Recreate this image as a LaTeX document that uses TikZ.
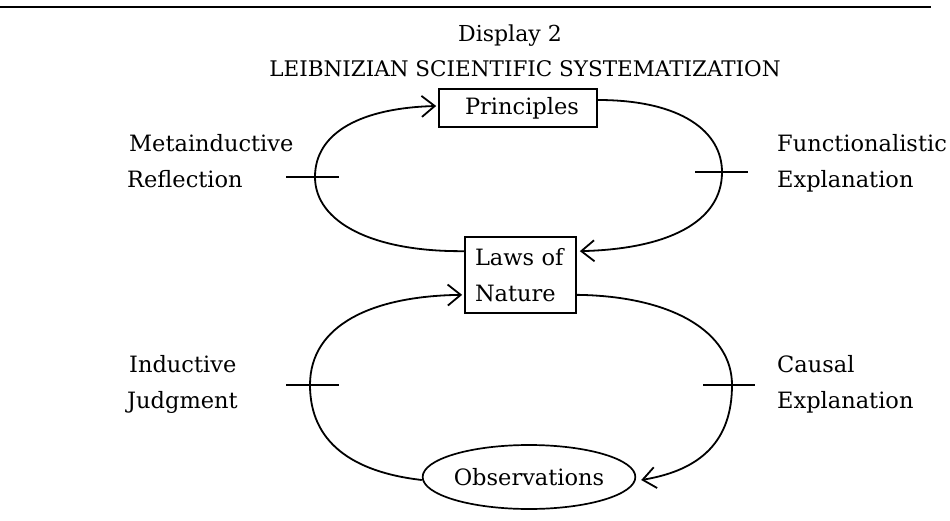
\documentclass[tikz,border=0pt]{standalone}
\usepackage{fontspec}
\setmainfont{DejaVu Serif}
\usetikzlibrary{arrows.meta,shapes.geometric,calc}
\begin{document}
\begin{tikzpicture}[x=1pt,y=-1pt,
  lbl/.style={anchor=base west,inner sep=0pt,font=\fontsize{22.5}{27}\selectfont},
  ttl/.style={anchor=base,inner sep=0pt},
  boxnode/.style={draw,line width=1.7pt,inner sep=0pt,font=\fontsize{22.5}{36}\selectfont},
  conn/.style={line width=1.8pt},
  arr/.style={conn,-{Straight Barb[length=13pt,width=21pt,line width=1.8pt]}},
  tick/.style={line width=1.8pt}]
\useasboundingbox (0,0) rectangle (950,521);
\draw[line width=1.8pt] (0,7) -- (931,7);
\node[ttl,font=\fontsize{22}{26}\selectfont] (t1) at (510,42) {Display 2};
\node[ttl,font=\fontsize{21.5}{26}\selectfont] (t2) at (525,77) {LEIBNIZIAN SCIENTIFIC SYSTEMATIZATION};
% boxes
\node[boxnode,minimum width=158pt,minimum height=38pt] (princ) at (518,108) {\hspace*{8pt}Principles};
\node[boxnode,minimum width=111pt,minimum height=76pt,align=left,text width=91pt] (laws) at (520.5,275) {Laws of\\Nature};
\node[boxnode,ellipse,minimum width=205pt,minimum height=64pt] (obs) at (529,477) {Observations};
% labels
\node[lbl] (mi1) at (129,152) {Metainductive};
\node[lbl] (mi2) at (127,188) {Reflection};
\node[lbl] (fe1) at (777,152) {Functionalistic};
\node[lbl] (fe2) at (777,188) {Explanation};
\node[lbl] (ij1) at (129,372) {Inductive};
\node[lbl] (ij2) at (127,408) {Judgment};
\node[lbl] (ce1) at (777,372) {Causal};
\node[lbl] (ce2) at (777,408) {Explanation};
% connectors
\coordinate (lawsTL) at ([yshift=-15pt]laws.north west);
\coordinate (lawsTR) at ([yshift=-15pt,xshift=3pt]laws.north east);
\coordinate (lawsBL) at ([yshift=19pt,xshift=-2pt]laws.south west);
\coordinate (lawsBR) at ([yshift=19pt]laws.south east);
\coordinate (princL) at ([yshift=2pt,xshift=-2pt]princ.west);
\coordinate (princR) at ([yshift=8pt]princ.east);
\coordinate (obsL) at ([yshift=-3pt]obs.west);
\coordinate (obsR) at ([yshift=-3pt,xshift=5pt]obs.east);
\draw[arr] (lawsTL) .. controls (372,252) and (315,222) .. (315,177)
  .. controls (315,132) and (362,108) .. (princL);
\draw[arr] (princR) .. controls (682,100) and (722,132) .. (722,172)
  .. controls (722,222) and (668,249) .. (lawsTR);
\draw[arr] (obsL) .. controls (352,472) and (310,442) .. (310,385)
  .. controls (310,325) and (372,296) .. (lawsBL);
\draw[arr] (lawsBR) .. controls (672,296) and (732,332) .. (732,385)
  .. controls (732,440) and (702,470) .. (obsR);
% ticks
\coordinate (k1a) at (286,177); \coordinate (k1b) at (339,177);
\coordinate (k2a) at (695,172); \coordinate (k2b) at (748,172);
\coordinate (k3a) at (286,385); \coordinate (k3b) at (339,385);
\coordinate (k4a) at (703,385); \coordinate (k4b) at (755,385);
\draw[tick] (k1a) -- (k1b);
\draw[tick] (k2a) -- (k2b);
\draw[tick] (k3a) -- (k3b);
\draw[tick] (k4a) -- (k4b);
\end{tikzpicture}
\end{document}
